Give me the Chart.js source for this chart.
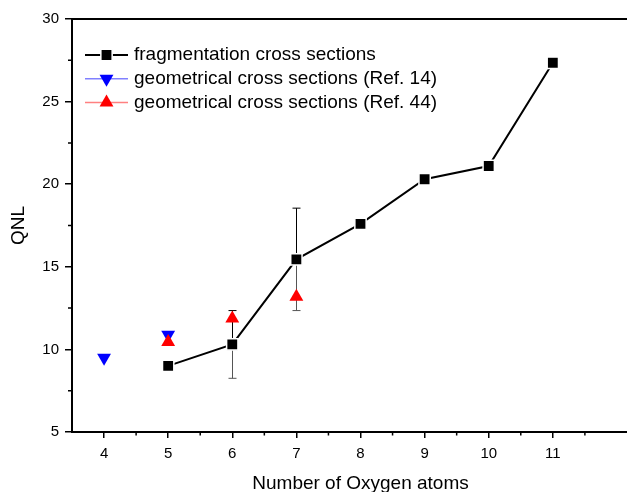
<!DOCTYPE html>
<html>
<head>
<meta charset="utf-8">
<script src="https://cdn.jsdelivr.net/npm/chart.js@4.4.1/dist/chart.umd.min.js"></script>
<style>
  html, body { margin: 0; padding: 0; background: #fff; overflow: hidden; width: 627px; height: 492px; }
  #wrap { width: 660px; height: 500px; position: relative; }
</style>
</head>
<body>
<div id="wrap"><canvas id="c" width="660" height="500"></canvas></div>
<script>
// QNL versus number of oxygen atoms
const oxygenAtoms = [5, 6, 7, 8, 9, 10, 11];
const qnlFragmentation = [9.0, 10.3, 15.45, 17.6, 20.3, 21.1, 27.35];
const qnlFragmentationErr = [null, 2.05, 3.1, null, null, null, null];

const ref14Atoms = [4, 5];
const qnlRef14 = [9.49, 10.88];

const ref44Atoms = [5, 6, 7];
const qnlRef44 = [10.45, 11.87, 13.18];

const xTicks = [4, 5, 6, 7, 8, 9, 10, 11];
const xMinorTicks = [4.5, 5.5, 6.5, 7.5, 8.5, 9.5, 10.5, 11.5];
const yTicks = [5, 10, 15, 20, 25, 30];
const yMinorTicks = [7.5, 12.5, 17.5, 22.5, 27.5];

const seriesLabels = [
  'fragmentation cross sections',
  'geometrical cross sections (Ref. 14)',
  'geometrical cross sections (Ref. 44)'
];

const FONT = '"Liberation Sans", Arial, Helvetica, sans-serif';
const H = Chart.helpers;

function toPoints(xs, ys) { return xs.map((x, i) => ({ x: x, y: ys[i] })); }

// vertical error bars under the fragmentation markers
const errorBars = {
  id: 'errorBars',
  beforeDatasetsDraw(chart) {
    const ctx = chart.ctx;
    const meta = chart.getDatasetMeta(0);
    const ys = chart.scales.y;
    ctx.save();
    ctx.lineWidth = 1;
    qnlFragmentationErr.forEach((e, i) => {
      if (e == null) return;
      const pt = meta.data[i];
      const x = Math.round(pt.x) + 0.5;
      const yc = ys.getPixelForValue(qnlFragmentation[i]);
      const yt = ys.getPixelForValue(qnlFragmentation[i] + e);
      const yb = ys.getPixelForValue(qnlFragmentation[i] - e);
      ctx.strokeStyle = '#000';
      ctx.beginPath();
      ctx.moveTo(x, yc); ctx.lineTo(x, yt);
      ctx.moveTo(x - 4, yt); ctx.lineTo(x + 4, yt);
      ctx.stroke();
      ctx.strokeStyle = '#555';
      ctx.beginPath();
      ctx.moveTo(x, yc); ctx.lineTo(x, yb);
      ctx.moveTo(x - 4, yb); ctx.lineTo(x + 4, yb);
      ctx.stroke();
    });
    ctx.restore();
  }
};

// minor ticks and the top frame line
const frame = {
  id: 'frame',
  afterDraw(chart) {
    const ctx = chart.ctx;
    const a = chart.chartArea;
    const xs = chart.scales.x, ys = chart.scales.y;
    ctx.save();
    ctx.strokeStyle = '#000';
    ctx.lineWidth = 1.5;
    ctx.beginPath();
    xMinorTicks.forEach(v => {
      const px = xs.getPixelForValue(v);
      ctx.moveTo(px, a.bottom); ctx.lineTo(px, a.bottom + 3.5);
    });
    yMinorTicks.forEach(v => {
      const py = ys.getPixelForValue(v);
      ctx.moveTo(a.left, py); ctx.lineTo(a.left - 4, py);
    });
    ctx.stroke();
    ctx.lineWidth = 2;
    ctx.beginPath();
    ctx.moveTo(a.left, a.top); ctx.lineTo(a.right + 20, a.top);
    ctx.stroke();
    ctx.restore();
  }
};

// legend: line with the marker in its middle, then the label
const lineLegend = {
  id: 'lineLegend',
  afterDraw(chart, args, opts) {
    const ctx = chart.ctx;
    ctx.save();
    ctx.font = opts.fontSize + 'px ' + FONT;
    ctx.textBaseline = 'middle';
    ctx.fillStyle = '#000';
    chart.data.datasets.forEach((ds, i) => {
      const y = opts.y + i * opts.rowHeight;
      const x0 = opts.x, x1 = opts.x + opts.lineLength;
      const xm = (x0 + x1) / 2;
      ctx.strokeStyle = ds.legendLineColor;
      ctx.lineWidth = ds.legendLineWidth;
      ctx.beginPath();
      ctx.moveTo(x0, y); ctx.lineTo(x1, y);
      ctx.stroke();
      ctx.fillStyle = ds.pointBackgroundColor;
      ctx.strokeStyle = ds.pointBorderColor;
      ctx.lineWidth = ds.pointBorderWidth;
      H.drawPoint(ctx, {
        pointStyle: ds.pointStyle,
        radius: ds.pointRadius,
        rotation: ds.pointRotation || 0,
        borderWidth: ds.pointBorderWidth
      }, xm, y);
      ctx.fillStyle = '#000';
      ctx.fillText(ds.label, x1 + opts.textGap, y);
    });
    ctx.restore();
  }
};

new Chart(document.getElementById('c'), {
  type: 'scatter',
  data: {
    datasets: [
      {
        label: seriesLabels[0],
        data: toPoints(oxygenAtoms, qnlFragmentation),
        showLine: true,
        borderColor: '#000',
        borderWidth: 2,
        pointStyle: 'rect',
        pointRadius: 8,
        pointBackgroundColor: '#000',
        pointBorderColor: '#fff',
        pointBorderWidth: 1.5,
        legendLineColor: '#000',
        legendLineWidth: 2,
        order: 0
      },
      {
        label: seriesLabels[1],
        data: toPoints(ref14Atoms, qnlRef14),
        showLine: false,
        pointStyle: 'triangle',
        pointRotation: 180,
        pointRadius: 8,
        pointBackgroundColor: '#0000ff',
        pointBorderColor: '#0000ff',
        pointBorderWidth: 0,
        legendLineColor: '#8080ff',
        legendLineWidth: 1.5,
        order: 2
      },
      {
        label: seriesLabels[2],
        data: toPoints(ref44Atoms, qnlRef44),
        showLine: false,
        pointStyle: 'triangle',
        pointRadius: 8,
        pointBackgroundColor: '#ff0000',
        pointBorderColor: '#ff0000',
        pointBorderWidth: 0,
        legendLineColor: '#ff8080',
        legendLineWidth: 1.5,
        order: 1
      }
    ]
  },
  options: {
    responsive: false,
    animation: false,
    events: [],
    layout: { padding: { top: 19, right: 11, left: 0, bottom: 0 } },
    plugins: {
      legend: { display: false },
      tooltip: { enabled: false },
      lineLegend: { x: 85, y: 55, rowHeight: 23.7, lineLength: 43, textGap: 6, fontSize: 19 }
    },
    scales: {
      x: {
        type: 'linear',
        min: 3.5,
        max: 12.5,
        afterBuildTicks(scale) { scale.ticks = xTicks.map(v => ({ value: v })); },
        afterFit(scale) { scale.height = 68; },
        grid: { display: true, drawOnChartArea: false, drawTicks: true, tickLength: 6, color: '#000', lineWidth: 1.5 },
        border: { display: true, color: '#000', width: 2 },
        ticks: { color: '#000', padding: 7, maxRotation: 0, autoSkip: false, font: { family: FONT, size: 15 } },
        title: { display: true, text: 'Number of Oxygen atoms', color: '#000', padding: { top: 0, bottom: 4.6 }, font: { family: FONT, size: 19 } }
      },
      y: {
        type: 'linear',
        min: 5,
        max: 30,
        afterBuildTicks(scale) { scale.ticks = yTicks.map(v => ({ value: v })); },
        afterFit(scale) { scale.width = 72; },
        grid: { display: true, drawOnChartArea: false, drawTicks: true, tickLength: 7, color: '#000', lineWidth: 1.5 },
        border: { display: true, color: '#000', width: 2 },
        ticks: { color: '#000', padding: 6, autoSkip: false, font: { family: FONT, size: 15 } },
        title: { display: true, text: 'QNL', color: '#000', padding: { top: 7.6, bottom: 0 }, font: { family: FONT, size: 19 } }
      }
    }
  },
  plugins: [errorBars, frame, lineLegend]
});
</script>
</body>
</html>
